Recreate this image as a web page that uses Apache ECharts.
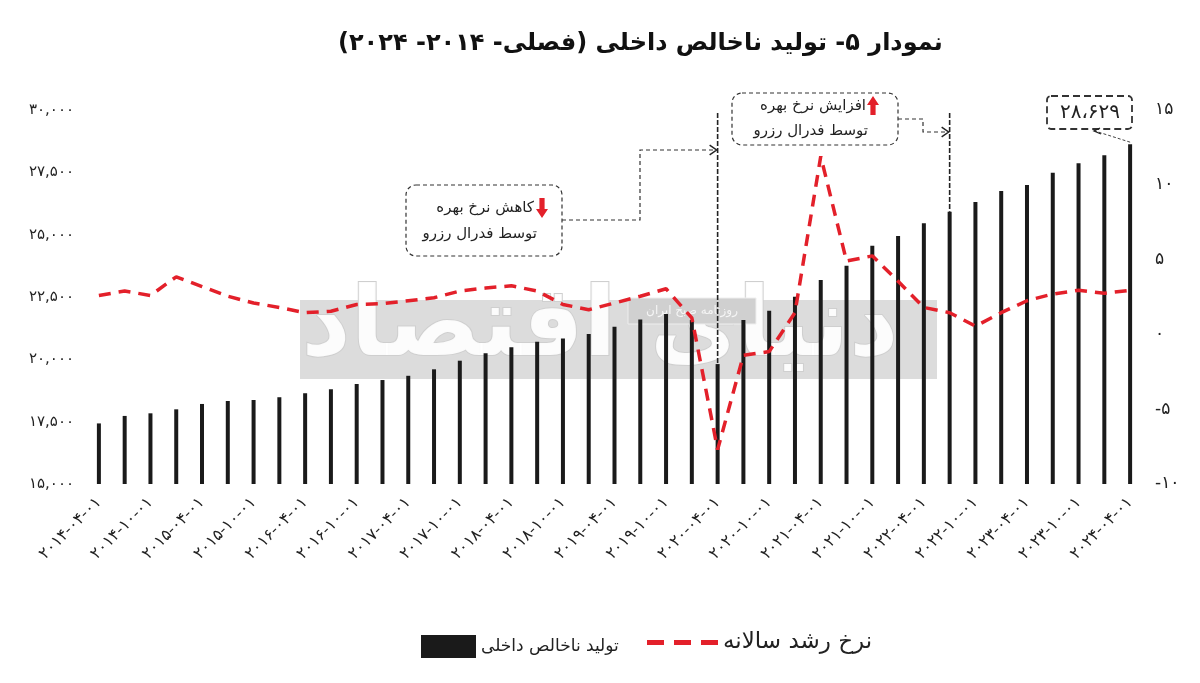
<!DOCTYPE html>
<html>
<head>
<meta charset="utf-8">
<script src="https://cdn.jsdelivr.net/npm/echarts@6/dist/echarts.min.js"></script>
<style>html,body{margin:0;padding:0;background:#fff}#c{width:1200px;height:683px}</style>
</head>
<body>
<div id="c"></div>
<script>
const categories = ['2014-04-01','2014-07-01','2014-10-01','2015-01-01','2015-04-01','2015-07-01','2015-10-01','2016-01-01','2016-04-01','2016-07-01','2016-10-01','2017-01-01','2017-04-01','2017-07-01','2017-10-01','2018-01-01','2018-04-01','2018-07-01','2018-10-01','2019-01-01','2019-04-01','2019-07-01','2019-10-01','2020-01-01','2020-04-01','2020-07-01','2020-10-01','2021-01-01','2021-04-01','2021-07-01','2021-10-01','2022-01-01','2022-04-01','2022-07-01','2022-10-01','2023-01-01','2023-04-01','2023-07-01','2023-10-01','2024-01-01','2024-04-01'];
const gdpValues = [17430,17730,17835,17995,18210,18330,18370,18480,18640,18800,19010,19170,19340,19600,19945,20240,20480,20705,20840,21015,21310,21600,21815,21575,19810,21575,21950,22510,23180,23755,24555,24945,25455,25920,26310,26750,26990,27485,27860,28190,28629];
const growthValues = [2.6,2.9,2.6,3.85,3.2,2.55,2.1,1.8,1.45,1.55,2.0,2.05,2.25,2.45,2.9,3.1,3.25,2.9,2.0,1.65,2.1,2.55,3.05,1.1,-7.7,-1.4,-1.15,1.45,11.9,4.9,5.25,3.55,1.8,1.45,0.55,1.45,2.25,2.7,2.95,2.75,2.95];
const seriesNames = ['تولید ناخالص داخلی','نرخ رشد سالانه'];
const titleText = 'نمودار ۵- تولید ناخالص داخلی (فصلی- ۲۰۱۴- ۲۰۲۴)';
const cutIndex = 24;   // 2020-04-01
const hikeIndex = 33;  // 2022-10-01

const FA = '۰۱۲۳۴۵۶۷۸۹';
const toFa = s => String(s).replace(/[0-9]/g, d => FA[+d]);
const FONT = 'DejaVu Sans';
const RLE = '\u202B', PDF = '\u202C';

const chart = echarts.init(document.getElementById('c'), null, {renderer:'canvas'});

chart.setOption({
  backgroundColor:'#fff',
  animation:false,
  title:{
    text: RLE + titleText + PDF,
    left:333, top:27,
    textStyle:{fontFamily:FONT, fontWeight:'bold', fontSize:24, color:'#111'}
  },
  grid:{left:86, right:57, top:110, bottom:199, containLabel:false},
  legend:[
    {data:[{name:seriesNames[0], icon:'rect'}], left:416, top:630, itemWidth:55, itemHeight:23, itemGap:8,
     textStyle:{fontFamily:FONT, fontSize:17, color:'#222'}},
    {data:[{name:seriesNames[1], icon:'path://M0,0h17v5h-17z M27,0h17v5h-17z M54,0h17v5h-17z'}],
     left:642, top:626, itemWidth:71, itemHeight:5, itemGap:8,
     textStyle:{fontFamily:FONT, fontSize:23, color:'#222'}}
  ],
  xAxis:{
    type:'category', data:categories, boundaryGap:true,
    axisLine:{show:false}, axisTick:{show:false}, splitLine:{show:false},
    axisLabel:{interval:1, rotate:45, margin:16, fontFamily:FONT, fontSize:16, color:'#222', formatter:v=>toFa(v)}
  },
  yAxis:[
    {type:'value', min:15000, max:30000, interval:2500, position:'left',
     axisLine:{show:false}, axisTick:{show:false}, splitLine:{show:false},
     axisLabel:{margin:12, fontFamily:FONT, fontSize:15, color:'#222',
       formatter:v=>toFa(v.toLocaleString('en-US'))}},
    {type:'value', min:-10, max:15, interval:5, position:'right',
     axisLine:{show:false}, axisTick:{show:false}, splitLine:{show:false},
     axisLabel:{margin:12, fontFamily:FONT, fontSize:17, color:'#222',
       formatter:v=>toFa(v)}}
  ],
  series:[
    {name:seriesNames[0], type:'bar', yAxisIndex:0, data:gdpValues, barWidth:4,
     itemStyle:{color:'#1a1a1a'}, z:3},
    {name:seriesNames[1], type:'line', yAxisIndex:1, data:growthValues, symbol:'none', smooth:false,
     lineStyle:{color:'#e3202a', width:3.5, type:[12,8]}, itemStyle:{color:'#e3202a'}, z:4}
  ]
});

const px = (i, v, ax) => chart.convertToPixel({xAxisIndex:0, yAxisIndex:ax}, [i, v]);
const cut = px(cutIndex, gdpValues[cutIndex], 0);
const hike = px(hikeIndex, gdpValues[hikeIndex], 0);
const last = px(gdpValues.length-1, gdpValues[gdpValues.length-1], 0);

const dashStroke = {stroke:'#333', lineWidth:1.2, lineDash:[4,3], fill:null};
const arrowHead = (x, y) => {
  const s = 7;
  const pts = [[x-s, y-s*0.7],[x, y],[x-s, y+s*0.7]];
  return {type:'polyline', shape:{points:pts}, style:{stroke:'#222', lineWidth:1.5, fill:null}, z:20};
};
const redArrow = (cx, top, bottom, up) => {
  const hw = 6, sw = 2.6, hh = 9;
  let pts;
  if (up) pts = [[cx, top],[cx+hw, top+hh],[cx+sw, top+hh],[cx+sw, bottom],[cx-sw, bottom],[cx-sw, top+hh],[cx-hw, top+hh]];
  else pts = [[cx, bottom],[cx+hw, bottom-hh],[cx+sw, bottom-hh],[cx+sw, top],[cx-sw, top],[cx-sw, bottom-hh],[cx-hw, bottom-hh]];
  return {type:'polygon', shape:{points:pts}, style:{fill:'#e3202a'}, z:21};
};
const txt = (t, x, y, size, align, extra) => ({type:'text', z:21,
  style:Object.assign({text:t, x:x, y:y, fontFamily:FONT, fontSize:size, fill:'#222', align:align||'right', verticalAlign:'middle'}, extra||{})});

const lastLabel = toFa(gdpValues[gdpValues.length-1].toLocaleString('en-US')).replace(',', '،');

chart.setOption({graphic:[
  // watermark background
  {type:'rect', shape:{x:300, y:300, width:637, height:79}, style:{fill:'#dcdcdc'}, z:-5},
  {type:'text', z:-4, style:{text:'دنیای اقتصاد', x:600, y:330, fontFamily:FONT, fontWeight:'bold', fontSize:96,
    fill:'rgba(255,255,255,0.9)', stroke:'#cfcfcf', lineWidth:2, align:'center', verticalAlign:'middle'}},
  {type:'rect', shape:{x:628, y:298, width:128, height:26}, style:{fill:'#d0d0d0', stroke:'#eeeeee', lineWidth:1}, z:-3},
  {type:'text', z:-2, style:{text:'روزنامه صبح ایران', x:692, y:311, fontFamily:FONT, fontSize:12, fill:'#f5f5f5', align:'center', verticalAlign:'middle'}},

  // vertical line at rate cut
  {type:'line', shape:{x1:cut[0], y1:113, x2:cut[0], y2:cut[1]}, style:{stroke:'#222', lineWidth:1.6, lineDash:[5,2]}, z:20},
  // vertical line at rate hike
  {type:'line', shape:{x1:hike[0], y1:113, x2:hike[0], y2:hike[1]}, style:{stroke:'#222', lineWidth:1.6, lineDash:[5,2]}, z:20},

  // box 1: rate cut
  {type:'rect', shape:{x:406, y:185, width:156, height:71, r:10}, style:Object.assign({}, dashStroke, {fill:'#fff'}), z:19},
  txt('کاهش نرخ بهره', 534, 208, 15),
  redArrow(542, 198, 218, false),
  txt('توسط فدرال رزرو', 537, 234, 15),
  {type:'polyline', shape:{points:[[562,220],[640,220],[640,150],[cut[0]-2,150]]}, style:dashStroke, z:20},
  arrowHead(cut[0]-1, 150),

  // box 2: rate hike
  {type:'rect', shape:{x:732, y:93, width:166, height:52, r:10}, style:Object.assign({}, dashStroke, {fill:'#fff'}), z:19},
  txt('افزایش نرخ بهره', 866, 106, 15),
  redArrow(873, 96, 115, true),
  txt('توسط فدرال رزرو', 868, 131, 15),
  {type:'polyline', shape:{points:[[898,119],[923,119],[923,132],[hike[0]-2,132]]}, style:dashStroke, z:20},
  arrowHead(hike[0]-1, 132),

  // last value box
  {type:'rect', shape:{x:1047, y:96, width:85, height:33, r:4}, style:{stroke:'#333', lineWidth:1.8, lineDash:[7,4], fill:'#fff'}, z:19},
  txt(lastLabel, 1090, 113, 20, 'center'),
  {type:'line', shape:{x1:last[0], y1:last[1]-2, x2:1095, y2:131}, style:{stroke:'#444', lineWidth:1, lineDash:[3,2]}, z:20},
  {type:'polyline', shape:{points:[[1100,128],[1094,131],[1101,134]]}, style:{stroke:'#222', lineWidth:1.3, fill:null}, z:20}
]});
</script>
</body>
</html>
